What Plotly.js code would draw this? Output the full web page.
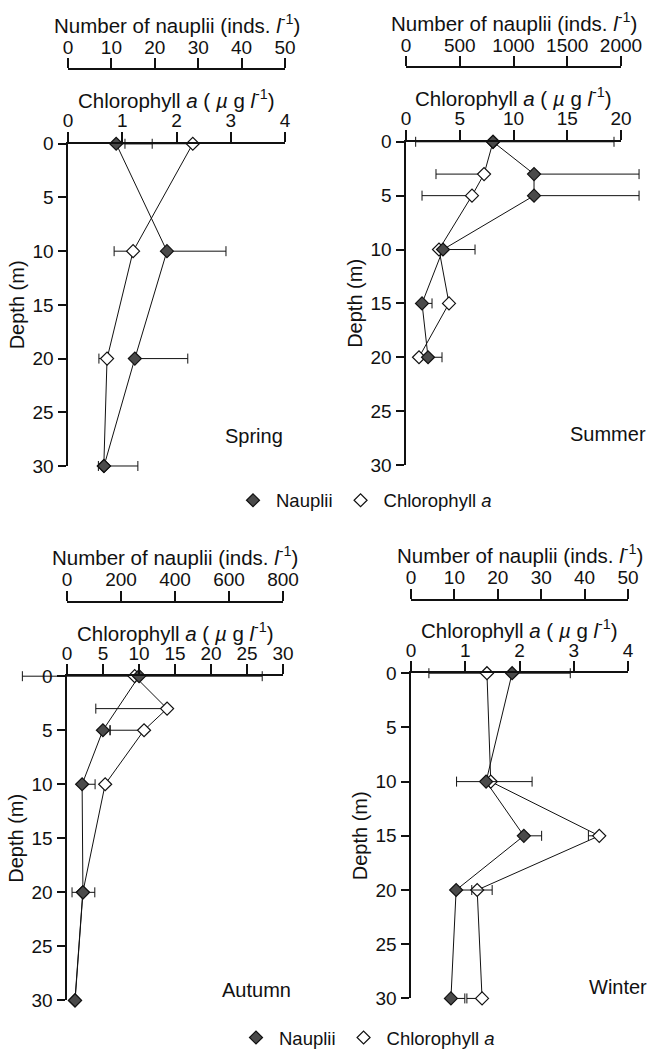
<!DOCTYPE html>
<html><head><meta charset="utf-8">
<script src="https://cdn.plot.ly/plotly-3.0.1.min.js"></script>
<style>html,body{margin:0;padding:0;background:#fff}#chart{width:650px;height:1057px}</style>
</head><body><div id="chart"></div>
<script>
// ---------- data ----------
const springNaupDepth = [0, 10, 20, 30];
const springNauplii = [11.1, 22.8, 15.4, 8.3];
const springNaupliiErr = [8.3, 13.6, 12.2, 7.8];
const springChlDepth = [0, 10, 20, 30];
const springChl = [2.30, 1.20, 0.72, 0.66];
const springChlErr = [1.25, 0.35, 0.15, 0.10];

const summerNaupDepth = [0, 3, 5, 10, 15, 20];
const summerNauplii = [809, 1191, 1191, 344, 149, 205];
const summerNaupliiErr = [1126, 977, 977, 298, 93, 130];
const summerChlDepth = [0, 3, 5, 10, 15, 20];
const summerChl = [8.1, 7.26, 6.14, 3.07, 4.0, 1.21];
const summerChlErr = [7.2, 4.47, 4.65, 0, 0, 0];

const autumnNaupDepth = [0, 5, 10, 20, 30];
const autumnNauplii = [267, 133, 56, 59, 30];
const autumnNaupliiErr = [456, 26, 48, 44, 0];
const autumnChlDepth = [0, 3, 5, 10, 20, 30];
const autumnChl = [9.4, 13.9, 10.7, 5.3, 2.2, 1.1];
const autumnChlErr = [15.6, 9.9, 4.7, 0, 1.5, 0];

const winterNaupDepth = [0, 10, 15, 20, 30];
const winterNauplii = [23.3, 17.3, 26.0, 10.4, 9.2];
const winterNaupliiErr = [13.4, 10.6, 4.1, 8.3, 3.2];
const winterChlDepth = [0, 10, 15, 20, 30];
const winterChl = [1.40, 1.47, 3.47, 1.22, 1.31];
const winterChlErr = [1.07, 0.63, 0.2, 0.1, 0.28];

const seasons = ['Spring', 'Summer', 'Autumn', 'Winter'];
const depthTicks = [0, 5, 10, 15, 20, 25, 30];
const chlRanges = [[0, 4], [0, 20], [0, 30], [0, 4]];
const chlDtick = [1, 5, 5, 1];
const naupRanges = [[0, 50], [0, 2000], [0, 800], [0, 50]];
const naupDtick = [10, 500, 200, 10];

// ---------- layout geometry (px in the 650x1057 figure) ----------
const W = 650, H = 1057;
const geo = [
  {x0: 68, x1: 285, yTop: 145, yBot: 470, naupY: 70, lab: [254, 440], legend: 'legend'},
  {x0: 406, x1: 621, yTop: 143, yBot: 469, naupY: 68, lab: [608, 438], legend: null},
  {x0: 67, x1: 283, yTop: 682, yBot: 1009, naupY: 607, lab: [256, 998], legend: 'legend2'},
  {x0: 411, x1: 628, yTop: 679, yBot: 1007, naupY: 605, lab: [618, 995], legend: null}
];

const datasets = [
  [springNaupDepth, springNauplii, springNaupliiErr, springChlDepth, springChl, springChlErr],
  [summerNaupDepth, summerNauplii, summerNaupliiErr, summerChlDepth, summerChl, summerChlErr],
  [autumnNaupDepth, autumnNauplii, autumnNaupliiErr, autumnChlDepth, autumnChl, autumnChlErr],
  [winterNaupDepth, winterNauplii, winterNaupliiErr, winterChlDepth, winterChl, winterChlErr]
];

const INK = '#111';
const FONT = 'Liberation Sans, Arial, Helvetica, sans-serif';
const traces = [];
const layout = {
  width: W, height: H,
  margin: {l: 0, r: 0, t: 0, b: 0},
  paper_bgcolor: '#fff', plot_bgcolor: 'rgba(0,0,0,0)',
  font: {family: FONT, size: 19, color: INK},
  showlegend: true,
  annotations: []
};

const chlTitle = 'Chlorophyll <i>a</i> ( <i>µ</i> g <i>l</i><sup>-1</sup>)';
const naupTitle = 'Number of nauplii (inds. <i>l</i><sup>-1</sup>)';

datasets.forEach((d, i) => {
  const [nD, n, nE, cD, c, cE] = d;
  const g = geo[i];
  const cx = 'x' + (i === 0 ? '' : 2 * i + 1);
  const nx = 'x' + (2 * i + 2);
  const yy = 'y' + (i === 0 ? '' : i + 1);
  const cxKey = 'xaxis' + (i === 0 ? '' : 2 * i + 1);
  const nxKey = 'xaxis' + (2 * i + 2);
  const yKey = 'yaxis' + (i === 0 ? '' : i + 1);
  const showLeg = !!g.legend;

  traces.push({x: c, y: cD, xaxis: cx, yaxis: yy, type: 'scatter', mode: 'lines',
    line: {color: INK, width: 1}, showlegend: false, hoverinfo: 'skip'});
  traces.push({x: n, y: nD, xaxis: nx, yaxis: yy, type: 'scatter', mode: 'lines',
    line: {color: INK, width: 1}, showlegend: false, hoverinfo: 'skip'});
  traces.push({x: n, y: nD, xaxis: nx, yaxis: yy, type: 'scatter', mode: 'markers',
    name: 'Nauplii', showlegend: showLeg, legend: g.legend || 'legend', cliponaxis: false,
    marker: {symbol: 'diamond', size: 10, color: '#4a4a4a', line: {color: INK, width: 1.2}},
    error_x: {type: 'data', symmetric: false, array: nE, arrayminus: nE.map(() => 0),
      color: INK, thickness: 1, width: 5}});
  traces.push({x: c, y: cD, xaxis: cx, yaxis: yy, type: 'scatter', mode: 'markers',
    name: 'Chlorophyll <i>a</i>', showlegend: showLeg, legend: g.legend || 'legend', cliponaxis: false,
    marker: {symbol: 'diamond', size: 10, color: '#fff', line: {color: INK, width: 1.2}},
    error_x: {type: 'data', symmetric: false, array: cE.map(() => 0), arrayminus: cE,
      color: INK, thickness: 1, width: 5}});

  const xdom = [g.x0 / W, g.x1 / W];
  const ydom = [1 - g.yBot / H, 1 - g.yTop / H];
  const axCommon = {showline: true, linecolor: INK, linewidth: 2, ticks: 'outside',
    tickcolor: INK, tickwidth: 2, showgrid: false, zeroline: false, fixedrange: true,
    tickfont: {size: 19, family: FONT, color: INK}};

  layout[cxKey] = Object.assign({}, axCommon, {
    domain: xdom, range: chlRanges[i], tick0: 0, dtick: chlDtick[i],
    side: 'top', anchor: yy, ticklen: 10, ticklabelstandoff: -3
  });
  layout[nxKey] = Object.assign({}, axCommon, {
    range: naupRanges[i], tick0: 0, dtick: naupDtick[i],
    overlaying: cx, anchor: 'free', position: 1 - g.naupY / H, side: 'top', ticklen: 10,
    ticklabelstandoff: -3
  });
  layout[yKey] = Object.assign({}, axCommon, {
    domain: ydom, range: [30, 0], tickvals: depthTicks, anchor: cx,
    linewidth: 2.5, ticklen: 8,
    title: {text: 'Depth (m)', font: {size: 20, family: FONT, color: INK}, standoff: 3}
  });

  const xc = (g.x0 + g.x1) / 2 / W;
  // top axis titles
  layout.annotations.push({text: naupTitle, xref: 'paper', yref: 'paper',
    x: xc, y: 1 - (g.naupY - 46) / H, xanchor: 'center', yanchor: 'middle',
    showarrow: false, font: {size: 20.5, family: FONT, color: INK}});
  layout.annotations.push({text: chlTitle, xref: 'paper', yref: 'paper',
    x: xc, y: 1 - (g.yTop - 45) / H, xanchor: 'center', yanchor: 'middle',
    showarrow: false, font: {size: 20.5, family: FONT, color: INK}});
  // season label
  layout.annotations.push({text: seasons[i], xref: 'paper', yref: 'paper',
    x: g.lab[0] / W, y: 1 - g.lab[1] / H, xanchor: 'center', yanchor: 'middle',
    showarrow: false, font: {size: 20, family: FONT, color: INK}});
});

const legendStyle = {orientation: 'h', xanchor: 'left', yanchor: 'middle', itemwidth: 36,
  font: {size: 18.5, family: FONT, color: INK}, bgcolor: 'rgba(0,0,0,0)', traceorder: 'normal'};
layout.legend = Object.assign({}, legendStyle, {x: 230 / W, y: 1 - 505 / H});
layout.legend2 = Object.assign({}, legendStyle, {x: 233 / W, y: 1 - 1047 / H});

Plotly.newPlot('chart', traces, layout, {displayModeBar: false, staticPlot: true}).then(gd => {
  // let error bars run past the axis ends, as in the printed figure
  gd.querySelectorAll('g.plot, g.trace, g.errorbars, g.errorbar, g.errorbar path').forEach(el => {
    el.removeAttribute('clip-path');
  });
  // drop empty placeholder text nodes left by the library
  gd.querySelectorAll('svg text').forEach(t => {
    if (!t.textContent.trim()) t.remove();
  });
});
</script>
</body></html>
